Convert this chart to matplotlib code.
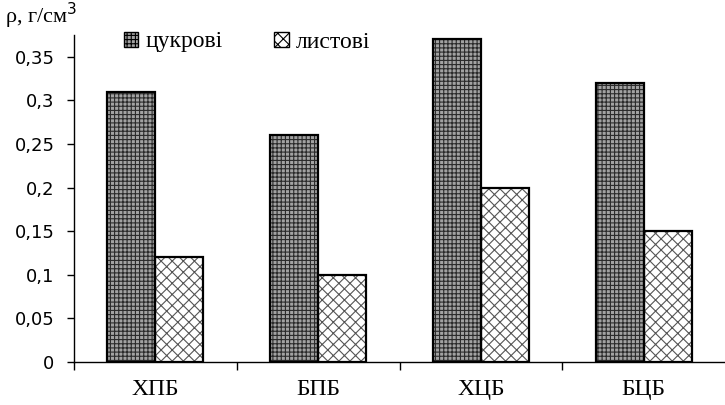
import matplotlib
matplotlib.use("Agg")
import matplotlib.pyplot as plt
from matplotlib.patches import Patch
import numpy as np

categories = ["ХПБ", "БПБ", "ХЦБ", "БЦБ"]
sugar = [0.31, 0.26, 0.37, 0.32]
leaf = [0.12, 0.10, 0.20, 0.15]
series_names = ["цукрові", "листові"]
yticks = [0, 0.05, 0.1, 0.15, 0.2, 0.25, 0.3, 0.35]
ytick_labels = ["0", "0,05", "0,1", "0,15", "0,2", "0,25", "0,3", "0,35"]

plt.rcParams['font.family'] = ['Liberation Serif', 'DejaVu Serif']
plt.rcParams['hatch.linewidth'] = 0.8

fig = plt.figure(figsize=(7.25, 4.05), dpi=100)
ax = fig.add_axes([74/725, 1-362/405, 651/725, (362-35)/405])

x = np.arange(len(categories))
w = 0.295
dark_face = "#a2a2a2"
dark_hatch = "#2a2a2a"
# hatched fills
ax.bar(x - w/2, sugar, w, facecolor=dark_face, edgecolor=dark_hatch, linewidth=0,
       hatch="++++")
ax.bar(x + w/2, leaf, w, facecolor="white", edgecolor="#555555", linewidth=0,
       hatch="xxx")
# outlines
ax.bar(x - w/2, sugar, w, fill=False, edgecolor="black", linewidth=1.6)
ax.bar(x + w/2, leaf, w, fill=False, edgecolor="black", linewidth=1.6)

ax.set_xlim(-0.5, len(categories) - 0.5)
ax.set_ylim(0, 0.375)
ax.set_yticks(yticks)
ax.set_yticklabels(ytick_labels, fontsize=13, family=['DejaVu Sans'])
ax.set_xticks(x)
ax.set_xticklabels(categories, fontsize=17)
ax.set_xticks(np.arange(len(categories)) - 0.5, minor=True)
ax.tick_params(axis='x', which='major', length=0, pad=12)
ax.tick_params(axis='x', which='minor', length=6, width=1, direction='out')
ax.tick_params(axis='y', length=5, width=1, direction='out', pad=9)
for s in ["top", "right"]:
    ax.spines[s].set_visible(False)
for s in ["left", "bottom"]:
    ax.spines[s].set_linewidth(1)

h1 = Patch(facecolor=dark_face, edgecolor="black", hatch="++++", linewidth=1)
h2 = Patch(facecolor="white", edgecolor="black", hatch="xxx", linewidth=1)
fig.legend(handles=[h1, h2], labels=series_names, loc="center left",
           bbox_to_anchor=(124/725, 1-42/405), ncol=2, frameon=False,
           fontsize=17, handlelength=0.6, handleheight=0.6, handletextpad=0.3,
           columnspacing=2.2, borderaxespad=0, borderpad=0)

fig.text(5/725, 1-16/405, "ρ, г/см$^3$", fontsize=16, va="center", ha="left")

fig.savefig("out.png", dpi=100)
